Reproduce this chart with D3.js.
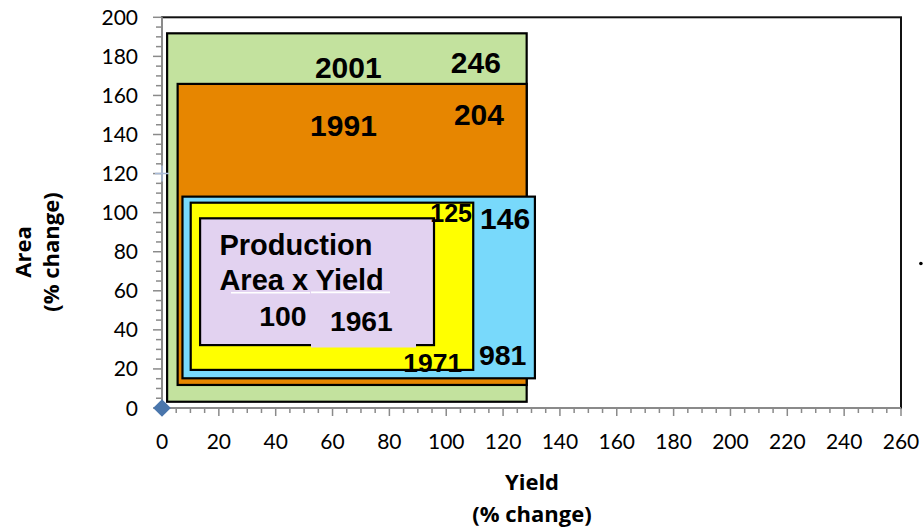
<!DOCTYPE html>
<html>
<head>
<meta charset="utf-8">
<script src="https://cdn.jsdelivr.net/npm/d3@7/dist/d3.min.js"></script>
<style>
  html, body { margin: 0; padding: 0; background: #ffffff; }
  svg { display: block; }
</style>
</head>
<body>
<svg id="chart" width="923" height="530"></svg>
<script>
// Nested rectangles: each one spans yield (x) by area (y), both in % change.
const years       = ["1961", "1971", "981", "1991", "2001"];
const production  = [100, 125, 146, 204, 246];
const yieldStart  = [13.4, 10.1, 7.2, 5.5, 1.8];
const yieldEnd    = [95.7, 109.5, 131.2, 128.3, 128.3];
const areaStart   = [32.2, 19.5, 15.2, 11.8, 3.2];
const areaEnd     = [97.1, 105.1, 108.2, 165.9, 191.8];
const fills       = ["#e2d2f0", "#ffff00", "#78d9fb", "#e78600", "#c3e29e"];

// Axis ticks
const xTicks = d3.range(0, 261, 20);
const yTicks = d3.range(0, 201, 20);

// Series point at the origin
const seriesX = [0];
const seriesY = [0];

const W = 923, H = 530;
const margin = { left: 162, right: 22, top: 17.3, bottom: 122 };
const svg = d3.select("#chart");

const x = d3.scaleLinear().domain([0, 260]).range([margin.left, W - margin.right]);
const y = d3.scaleLinear().domain([0, 200]).range([H - margin.bottom, margin.top]);

// plot-area frame
svg.append("rect")
  .attr("x", x(0)).attr("y", y(200))
  .attr("width", x(260) - x(0)).attr("height", y(0) - y(200))
  .attr("fill", "none").attr("stroke", "#111").attr("stroke-width", 2);

// rectangles, drawn largest first
const order = d3.range(years.length).reverse();
const rects = svg.append("g");
order.forEach(i => {
  rects.append("rect")
    .attr("x", x(yieldStart[i]))
    .attr("y", y(areaEnd[i]))
    .attr("width", x(yieldEnd[i]) - x(yieldStart[i]))
    .attr("height", y(areaStart[i]) - y(areaEnd[i]))
    .attr("fill", fills[i])
    .attr("stroke", "#000")
    .attr("stroke-width", 2.2);
});

// text box behind the 1961 label, covering part of the bottom edge
svg.append("rect")
  .attr("x", 311).attr("y", 300).attr("width", 105).attr("height", 47.5)
  .attr("fill", fills[0]);

// labels (positions in data units)
const labelFont = "'Liberation Sans', Arial, sans-serif";
const yearLabelPos = [[59.1, 39.6, 28.2], [84.9, 18.6, 26.5], [111.5, 22.0, 28.5], [52.1, 139.2, 30], [53.8, 169.1, 30]];
const valueLabelPos = [[34.2, 42.1, 28.4], [94.4, 95.2, 25], [111.9, 91.5, 30], [102.7, 144.9, 30], [101.6, 171.3, 30]];
const labels = svg.append("g")
  .attr("font-family", labelFont).attr("font-weight", "bold").attr("fill", "#000");
years.forEach((yr, i) => {
  const p = yearLabelPos[i];
  labels.append("text").attr("x", x(p[0])).attr("y", y(p[1]))
    .attr("font-size", p[2]).text(yr);
  const q = valueLabelPos[i];
  labels.append("text").attr("x", x(q[0])).attr("y", y(q[1]))
    .attr("font-size", q[2]).text(production[i]);
});
labels.append("text").attr("x", x(20.2)).attr("y", y(78.3))
  .attr("font-size", 29).text("Production");
labels.append("text").attr("x", x(20.2)).attr("y", y(60.4))
  .attr("font-size", 29).text("Area x Yield");
// white underline under the formula
svg.append("line").attr("x1", 231).attr("x2", 310).attr("y1", 292.7).attr("y2", 292.7)
  .attr("stroke", "#fff").attr("stroke-width", 1.6);
svg.append("line").attr("x1", 311).attr("x2", 390).attr("y1", 292.4).attr("y2", 292.4)
  .attr("stroke", "#fff").attr("stroke-width", 1.6);

// axes
const axisColor = "#8a8a8a";
const tickFont = "Lato, 'Open Sans', sans-serif";

const gx = svg.append("g");
gx.append("line").attr("x1", x(0)).attr("x2", x(260)).attr("y1", y(0)).attr("y2", y(0))
  .attr("stroke", axisColor).attr("stroke-width", 2);
d3.range(0, 261, 5).forEach(v => {
  const major = v % 20 === 0;
  gx.append("line").attr("x1", x(v)).attr("x2", x(v))
    .attr("y1", y(0)).attr("y2", y(0) + (major ? 8 : 5))
    .attr("stroke", axisColor).attr("stroke-width", 1.5);
});
gx.selectAll("text.xt").data(xTicks).join("text")
  .attr("class", "xt")
  .attr("x", d => x(d)).attr("y", y(0) + 41)
  .attr("text-anchor", "middle")
  .attr("font-family", tickFont).attr("font-size", 21).attr("fill", "#000")
  .text(d => d);

const gy = svg.append("g");
gy.append("line").attr("x1", x(0)).attr("x2", x(0)).attr("y1", y(0)).attr("y2", y(200))
  .attr("stroke", axisColor).attr("stroke-width", 2);
d3.range(0, 201, 5).forEach(v => {
  const major = v % 20 === 0;
  gy.append("line").attr("x1", x(0) - (major ? 9 : 6)).attr("x2", x(0))
    .attr("y1", y(v)).attr("y2", y(v))
    .attr("stroke", axisColor).attr("stroke-width", 1.5);
});
gy.selectAll("text.yt").data(yTicks).join("text")
  .attr("class", "yt")
  .attr("x", x(0) - 24).attr("y", d => y(d) + 7.5)
  .attr("text-anchor", "end")
  .attr("font-family", tickFont).attr("font-size", 21).attr("fill", "#000")
  .text(d => d);

// small cross marker on the y axis at 120
svg.append("path")
  .attr("d", `M${x(0) - 7},${y(120)}H${x(0) + 7}M${x(0)},${y(120) - 8}V${y(120) + 8}`)
  .attr("stroke", "#a9bbd8").attr("stroke-width", 1.5).attr("fill", "none");

// series point (diamond)
svg.selectAll("path.pt").data(seriesX).join("path")
  .attr("class", "pt")
  .attr("transform", (d, i) => `translate(${x(d)},${y(seriesY[i])})`)
  .attr("d", d3.symbol().type(d3.symbolDiamond2).size(200)())
  .attr("fill", "#4a76ac");

// stray point beyond the plot
svg.append("circle").attr("cx", x(267)).attr("cy", y(74)).attr("r", 1.8).attr("fill", "#000");

// axis titles
const titleFont = "'Open Sans', sans-serif";
const xt = svg.append("text").attr("text-anchor", "middle")
  .attr("font-family", titleFont).attr("font-weight", "bold").attr("font-size", 22).attr("fill", "#000");
xt.append("tspan").attr("x", 532).attr("y", 490).text("Yield");
xt.append("tspan").attr("x", 532).attr("y", 522).text("(% change)");

const yt = svg.append("text").attr("text-anchor", "middle")
  .attr("transform", "translate(0,252) rotate(-90)")
  .attr("font-family", titleFont).attr("font-weight", "bold").attr("font-size", 22).attr("fill", "#000");
yt.append("tspan").attr("x", 0).attr("y", 31).text("Area");
yt.append("tspan").attr("x", 0).attr("y", 59).text("(% change)");
</script>
</body>
</html>
